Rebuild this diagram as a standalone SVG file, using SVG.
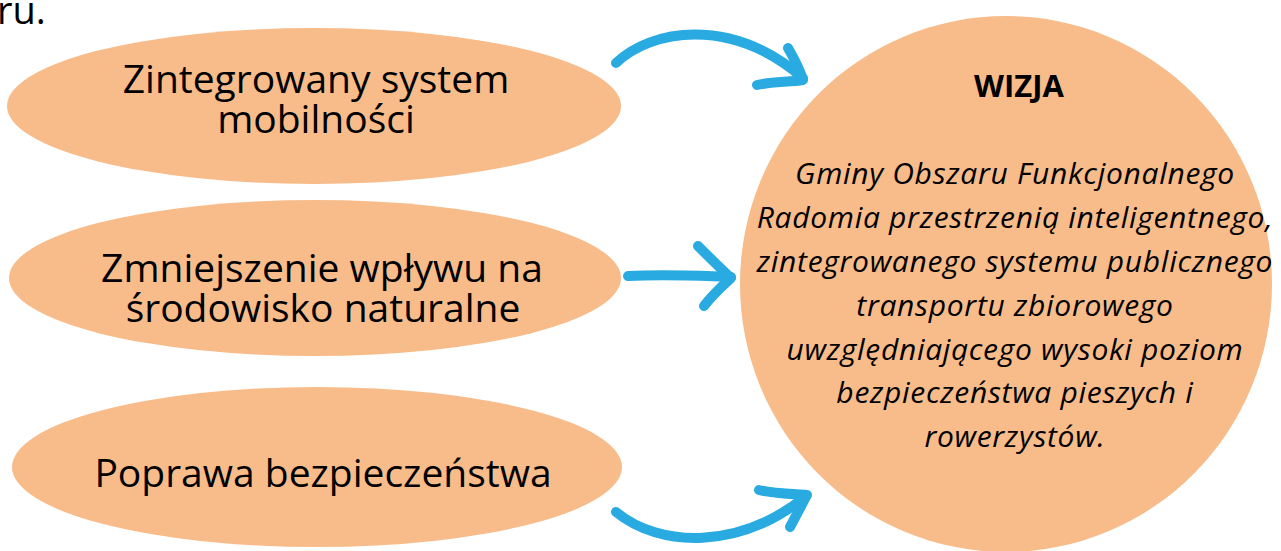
<svg xmlns="http://www.w3.org/2000/svg" width="1281" height="551" viewBox="0 0 1281 551">
<style>
.node{fill:#F8BC8A}
.lbl{font-family:"Open Sans","Noto Sans","Liberation Sans",sans-serif;font-size:39px;fill:#000;text-anchor:middle}
.viz{font-family:"Open Sans","Noto Sans","Liberation Sans",sans-serif;font-size:30px;letter-spacing:0.7px;fill:#000;text-anchor:middle;font-style:italic}
.vizh{font-family:"Open Sans","Noto Sans","Liberation Sans",sans-serif;font-size:31px;fill:#000;text-anchor:middle;font-weight:bold}
.arr{fill:none;stroke:#29ABE2;stroke-width:10;stroke-linecap:round;stroke-linejoin:round}
</style>
<rect width="1281" height="551" fill="#fff"/>
<text x="-3" y="24" font-family="'Open Sans','Noto Sans',sans-serif" font-size="38" fill="#000">ru.</text>
<g id="n1">
<ellipse class="node" cx="314" cy="106" rx="307" ry="78"/>
<text class="lbl" x="316" y="93">Zintegrowany system</text>
<text class="lbl" x="316" y="133">mobilności</text>
</g>
<g id="n2">
<ellipse class="node" cx="315" cy="278" rx="306" ry="78"/>
<text class="lbl" x="322" y="282">Zmniejszenie wpływu na</text>
<text class="lbl" x="323" y="322">środowisko naturalne</text>
</g>
<g id="n3">
<ellipse class="node" cx="317" cy="467" rx="305" ry="80"/>
<text class="lbl" x="323" y="487">Poprawa bezpieczeństwa</text>
</g>
<g id="vision">
<ellipse class="node" cx="1006" cy="284" rx="266" ry="268"/>
<text class="vizh" x="1019" y="97">WIZJA</text>
<text class="viz" x="1015" y="184">Gminy Obszaru Funkcjonalnego</text>
<text class="viz" x="1015" y="228">Radomia przestrzenią inteligentnego,</text>
<text class="viz" x="1015" y="272">zintegrowanego systemu publicznego</text>
<text class="viz" x="1015" y="316">transportu zbiorowego</text>
<text class="viz" x="1015" y="360">uwzględniającego wysoki poziom</text>
<text class="viz" x="1015" y="403">bezpieczeństwa pieszych i</text>
<text class="viz" x="1015" y="447">rowerzystów.</text>
</g>
<g id="connectors">
<path class="arr" d="M616,63 C650,30 730,15 803,78"/>
<path class="arr" d="M788,48 C795,60 800,70 803,80 C790,82 770,82 757,85"/>
<path class="arr" d="M628,276 C670,274 700,276 731,277"/>
<path class="arr" d="M698,246 C710,258 720,268 731,278 C720,288 710,298 704,306"/>
<path class="arr" d="M616,512 C660,548 740,550 806,496"/>
<path class="arr" d="M759,490 C775,494 795,494 807,495 C800,508 795,518 790,527"/>
</g>
</svg>
